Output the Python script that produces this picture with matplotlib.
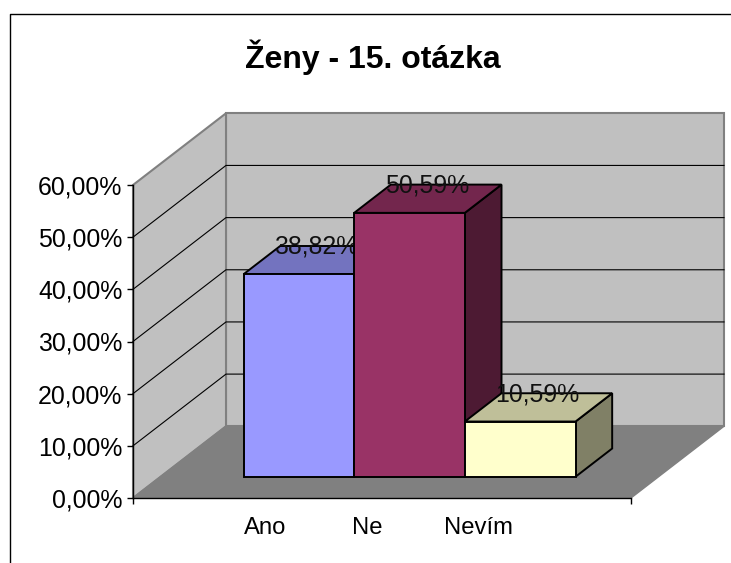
import numpy as np
from matplotlib import pyplot as plt
from matplotlib.lines import Line2D

categories = ['Ano', 'Ne', 'Nevím']
values = [38.82, 50.59, 10.59]
value_labels = ['38,82%', '50,59%', '10,59%']
y_ticks = [0, 10, 20, 30, 40, 50, 60]
y_tick_labels = ['0,00%', '10,00%', '20,00%', '30,00%', '40,00%', '50,00%', '60,00%']

front_colors = ['#9999FF', '#993366', '#FFFFCC']
top_colors = ['#7373BF', '#73264D', '#BFBF99']
side_colors = ['#4D4D80', '#4D1A33', '#808066']

# how far the back wall is shifted from the front plane, in data units
DX = 93 / 166
DY = 71.5 / 5.2
BAR_D0 = 0.296
BAR_D1 = 0.69
BAR_W = 2 / 3

plt.rcParams['font.family'] = ['Liberation Sans', 'DejaVu Sans']
fig = plt.figure(figsize=(7.31, 5.63), dpi=100)
ax = fig.add_axes([133 / 731, 1 - 498 / 563, 498 / 731, 313 / 563])
ax.set_xlim(0, 3)
ax.set_ylim(0, 60)
ax.patch.set_visible(False)


def proj(x, y, d):
    return x + DX * d, y + DY * d


def face(pts, color, edge, lw, z):
    xy = [proj(*p) for p in pts]
    ax.fill(*zip(*xy), facecolor=color, edgecolor=edge, linewidth=lw,
            zorder=z, clip_on=False, joinstyle='miter')


# walls and floor
top = y_ticks[-1]
face([(0, 0, 1), (3, 0, 1), (3, top, 1), (0, top, 1)], '#C0C0C0', '#808080', 1.5, 1)
face([(0, 0, 0), (0, 0, 1), (0, top, 1), (0, top, 0)], '#C0C0C0', '#808080', 1.5, 1)
face([(0, 0, 0), (3, 0, 0), (3, 0, 1), (0, 0, 1)], '#808080', '#808080', 1, 1.5)
for t in y_ticks[1:-1]:
    xs, ys = zip(proj(0, t, 0), proj(0, t, 1), proj(3, t, 1))
    ax.plot(xs, ys, color='black', lw=0.8, zorder=2, clip_on=False)

# bars, later ones cover the label of the earlier one
for i, v in enumerate(values):
    x0 = 0.5 + i * BAR_W
    x1 = x0 + BAR_W
    z = 3 + i
    face([(x1, 0, BAR_D0), (x1, 0, BAR_D1), (x1, v, BAR_D1), (x1, v, BAR_D0)],
         side_colors[i], 'black', 1.4, z)
    face([(x0, v, BAR_D0), (x1, v, BAR_D0), (x1, v, BAR_D1), (x0, v, BAR_D1)],
         top_colors[i], 'black', 1.4, z)
    face([(x0, 0, BAR_D0), (x1, 0, BAR_D0), (x1, v, BAR_D0), (x0, v, BAR_D0)],
         front_colors[i], 'black', 1.4, z)
    lx, _ = proj((x0 + x1) / 2, v, (BAR_D0 + BAR_D1) / 2)
    _, ly = proj(x0, v, BAR_D1)
    ax.annotate(value_labels[i], (lx, ly), xytext=(-0.7, -0.7), textcoords='offset points',
                ha='center', va='center', fontsize=17.9, color='#111111',
                zorder=z + 0.5, annotation_clip=False)

for s in ['top', 'right']:
    ax.spines[s].set_visible(False)
for s in ['left', 'bottom']:
    ax.spines[s].set_linewidth(1)
    ax.spines[s].set_zorder(2.5)

ax.set_yticks(y_ticks)
ax.set_yticklabels(y_tick_labels, fontsize=17.9)
ax.tick_params(axis='y', length=4.5, width=1, pad=3)
# category labels do not sit under the bars in the original
ax.set_xticks([0.795, 1.41, 2.08])
ax.set_xticklabels(categories, fontsize=17.2)
ax.tick_params(axis='x', which='major', length=0, pad=13.5)
ax.set_xticks([0, 3], minor=True)
ax.tick_params(axis='x', which='minor', length=4.5, width=1)

fig.text(372.5 / 731, 1 - 57 / 563, 'Ženy - 15. otázka', ha='center', va='center',
         fontsize=23, fontweight='bold')

# chart area border, only left and top are inside the crop
fig.add_artist(Line2D([9.5 / 731, 9.5 / 731, 1], [0, 1 - 14 / 563, 1 - 14 / 563],
                      color='black', lw=1))

fig.savefig('out.png', dpi=100)
